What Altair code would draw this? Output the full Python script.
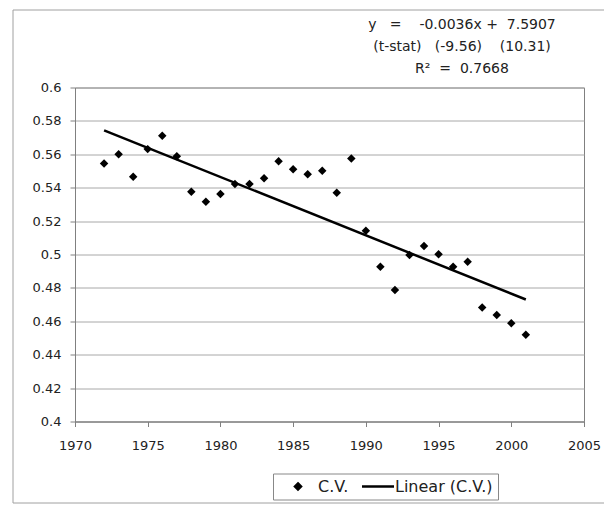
import altair as alt
import pandas as pd

years = list(range(1972, 2002))
cv = [0.5545, 0.5601, 0.5465, 0.5631, 0.5711, 0.5589, 0.5376, 0.5316, 0.5362, 0.5422,
      0.5422, 0.5456, 0.5559, 0.5511, 0.5481, 0.5501, 0.5370, 0.5575, 0.5142, 0.4927,
      0.4788, 0.4997, 0.5051, 0.5001, 0.4927, 0.4957, 0.4682, 0.4638, 0.4589, 0.4519]
series_names = ["C.V.", "Linear (C.V.)"]
NB = "\u00a0"
equation_lines = [
    "y" + NB * 3 + "=" + NB * 4 + "-0.0036x" + NB + "+" + NB * 2 + "7.5907",
    "(t-stat)" + NB * 3 + "(-9.56)" + NB * 4 + "(10.31)",
    "R\u00b2" + NB * 2 + "=" + NB * 2 + "0.7668",
]
x_ticks = [1970, 1975, 1980, 1985, 1990, 1995, 2000, 2005]
y_ticks = [0.4, 0.42, 0.44, 0.46, 0.48, 0.5, 0.52, 0.54, 0.56, 0.58, 0.6]

df = pd.DataFrame({"year": years, "cv": cv})

FONT = "DejaVu Sans"
INK = "#222222"
FRAME = "#a0a0a0"

xscale = alt.Scale(domain=[1970, 2005], nice=False, zero=False)
yscale = alt.Scale(domain=[0.4, 0.6], nice=False, zero=False)
xaxis = alt.Axis(values=x_ticks, format="d", title=None, grid=False, tickSize=5,
                 labelPadding=13, labelFlush=False, domainColor="#808080",
                 tickColor="#808080")
yaxis = alt.Axis(values=y_ticks, format=".2~f", title=None, grid=True, tickSize=5,
                 labelPadding=9, labelFlush=False, domainColor="#808080",
                 tickColor="#808080", gridColor="#a8a8a8")

# legend glyphs: small diamond (C.V.) and a line segment (linear trend)
is_cv = "datum.value == 'C.V.'"
diamond_path = "M0.833,-0.5L1.333,0L0.833,0.5L0.333,0Z"
line_path = "M-1.333,0H4"
legend = alt.Legend(
    title=" ", titleOrient="left", titlePadding=7, titleFontSize=12, titleFont=FONT,
    orient="none", legendX=198, legendY=386, direction="horizontal",
    symbolSize=144,
    symbolType=alt.ExprRef(expr=is_cv + " ? '" + diamond_path + "' : '" + line_path + "'"),
    symbolFillColor=alt.ExprRef(expr=is_cv + " ? 'black' : 'transparent'"),
    symbolStrokeColor="black",
    symbolStrokeWidth=2.5,
    symbolOpacity=1,
    labelFontSize=16, labelFont=FONT, labelColor=INK, labelOffset=17,
    columnPadding=8, padding=5,
    strokeColor="#888888", fillColor="white",
)
color = alt.Color("series:N", scale=alt.Scale(domain=series_names, range=["black", "black"]),
                  legend=legend)

base = alt.Chart(df)
one_row = base.transform_filter("datum.year == 1972")

frame_top = one_row.mark_rule(color=FRAME).encode(
    x=alt.value(-62), x2=alt.value(620), y=alt.value(-77.5))
frame_left = one_row.mark_rule(color=FRAME).encode(
    x=alt.value(-62), y=alt.value(-77.5), y2=alt.value(415.5))
frame_bottom = one_row.mark_rule(color=FRAME).encode(
    x=alt.value(-62), x2=alt.value(620), y=alt.value(415.5))

equation = one_row.mark_text(
    font=FONT, fontSize=14, color=INK, align="center", baseline="middle", lineHeight=22
).encode(x=alt.value(387), y=alt.value(-62.5), text=alt.value(equation_lines))

points = base.transform_calculate(series="'C.V.'").mark_point(
    shape="diamond", filled=True, size=72, opacity=1
).encode(
    x=alt.X("year:Q", scale=xscale, axis=xaxis),
    y=alt.Y("cv:Q", scale=yscale, axis=yaxis),
    color=color,
)

trend = base.transform_regression("year", "cv", extent=[1972, 2001]).transform_calculate(
    series="'Linear (C.V.)'"
).mark_line(strokeWidth=2.5).encode(
    x=alt.X("year:Q", scale=xscale, axis=xaxis),
    y=alt.Y("cv:Q", scale=yscale, axis=yaxis),
    color=color,
)

chart = alt.layer(frame_top, frame_left, frame_bottom, equation, points, trend).properties(
    width=509, height=334,
    autosize=alt.AutoSizeParams(type="none"),
    padding={"left": 67, "top": 79.5, "right": 20, "bottom": 83},
).configure_view(stroke="#808080", strokeWidth=1).configure_axis(
    labelFont=FONT, labelFontSize=13, labelColor=INK
)

chart.save("out.html", embed_options={"renderer": "svg", "actions": False})
